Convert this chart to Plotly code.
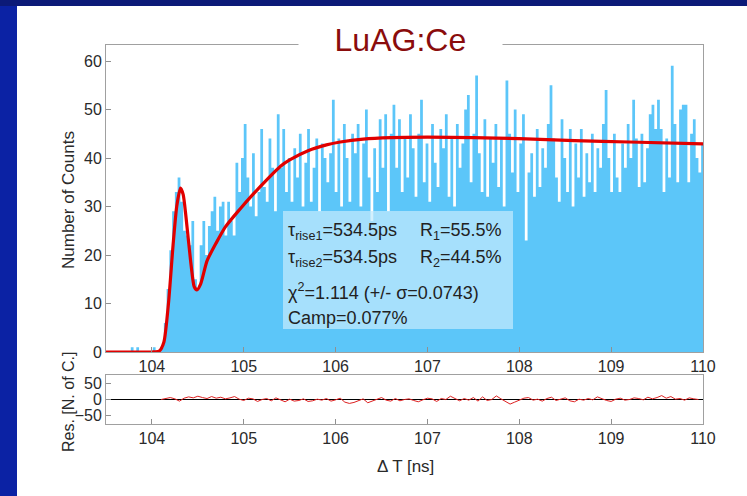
import plotly.graph_objects as go

# ---------------- data ----------------
bin_start = 103.5
bin_width = 0.03
counts = [
    0, 0, 0, 0, 0, 0, 0, 0, 0, 1, 0, 1, 0, 0, 0, 0, 0, 1, 0, 0,
    1, 6, 13, 21, 29, 33, 36, 31, 25, 24,
    22, 27, 15, 13, 22, 27, 20, 26, 29, 32,
    25, 30, 31, 24, 31, 27, 24, 39, 33, 40,
    47, 36, 30, 41, 28, 33, 46, 34, 31, 44,
    38, 29, 49, 38, 46, 33, 40, 31, 42, 36,
    45, 30, 39, 46, 31, 38, 44, 29, 43, 40,
    35, 41, 52, 33, 44, 30, 47, 40, 31, 45,
    41, 47, 30, 43, 50, 36, 27, 42, 33, 48,
    38, 49, 29, 45, 51, 38, 48, 33, 44, 36,
    49, 42, 32, 45, 52, 35, 43, 31, 47, 39,
    34, 46, 42, 49, 32, 44, 30, 47, 38, 43,
    50, 53, 35, 45, 57, 41, 33, 48, 32, 44,
    39, 47, 34, 44, 30, 56, 45, 37, 50, 33,
    43, 49, 23, 37, 41, 32, 46, 34, 42, 38,
    47, 55, 44, 36, 31, 48, 40, 33, 46, 30,
    43, 36, 46, 32, 41, 35, 45, 33, 42, 38,
    47, 54, 40, 33, 45, 36, 33, 43, 38, 47,
    40, 52, 44, 34, 45, 35, 42, 49, 51, 46,
    52, 46, 33, 44, 36, 59, 47, 35, 50, 51,
    51, 35, 45, 48, 40, 37, 43,
]

fit_t = [103.5, 104.0, 104.08, 104.13, 104.18, 104.23, 104.27, 104.31, 104.34,
         104.37, 104.42, 104.46, 104.49, 104.53, 104.6, 104.7, 104.8, 104.96,
         105.1, 105.25, 105.4, 105.5, 105.7, 105.9, 106.05, 106.3, 106.6, 107.0,
         107.5, 108.0, 108.6, 109.2, 110.0]
fit_y = [0, 0, 0.2, 2, 10, 22, 30, 33.8, 32.5,
         28, 19, 13.5, 12.8, 14, 18.8, 22.5, 25.8, 29.5,
         32.5, 35.5, 38.3, 39.6, 41.5, 42.7, 43.3, 43.9, 44.2, 44.3,
         44.2, 44.0, 43.6, 43.3, 42.9]

res_start = 104.1
res_step = 0.05
residuals = [0, 3, 6, 2, -5, 4, 8, 5, 10, 6, 3, 9, 4, 7, 2, 5, 9, 1, -3, 4,
             2, -6, 0, 3, -4, 5, -2, -7, 1, -5, -3, 2, -6, -4, 1, -2, 3, -5, -1, 4,
             -8, -12, -9, -3, 2, -10, -4, 1, 6, -2, -5, 3, -4, 0, 2, -3, -7, -1, 4, 2,
             -6, 3, 0, 10, 2, -4, 3, -2, 6, -5, 8, -3, 0, 11, 2, -6, -14, -8, -3, 4,
             6, -2, 1, -5, 3, 7, -3, 0, 5, -4, -7, 1, -2, 3, -1, 8, 2, -3, -6, 1,
             4, -2, 0, 5, 3, -1, 7, 2, 6, 12, 4, 9, 1, 3, -2, 5, 2, 0]

x_ticks = [104, 105, 106, 107, 108, 109, 110]
y_ticks = [0, 10, 20, 30, 40, 50, 60]
res_ticks = [-50, 0, 50]

info_lines = [
    "τ<sub>rise1</sub>=534.5ps",
    "τ<sub>rise2</sub>=534.5ps",
    "χ<sup>2</sup>=1.114 (+/- σ=0.0743)",
    "Camp=0.077%",
]
info_right = ["R<sub>1</sub>=55.5%", "R<sub>2</sub>=44.5%"]

# ---------------- geometry helpers (pixel -> paper) ----------------
W, H = 747, 496
def px(x):
    return x / W
def py(y):
    return 1 - y / H

edges = [bin_start + i * bin_width for i in range(len(counts) + 1)]
step_y = counts + [counts[-1]]
res_x = [res_start + i * res_step for i in range(len(residuals))]

FONT = "Liberation Sans, Arial, Helvetica, sans-serif"
HIST = "#5cc6f9"
TXT = "#2a2a2a"

fig = go.Figure()
fig.add_trace(go.Scatter(x=edges, y=step_y, mode="lines", line=dict(shape="hv", width=0, color=HIST),
                         fill="tozeroy", fillcolor=HIST, xaxis="x", yaxis="y", hoverinfo="skip"))
fig.add_trace(go.Scatter(x=fit_t, y=fit_y, mode="lines",
                         line=dict(color="#e00000", width=3.2, shape="spline", smoothing=0.6),
                         xaxis="x", yaxis="y"))
fig.add_trace(go.Scatter(x=[bin_start, 110], y=[0, 0], mode="lines",
                         line=dict(color="black", width=1), xaxis="x2", yaxis="y2"))
fig.add_trace(go.Scatter(x=res_x, y=residuals, mode="lines",
                         line=dict(color="#dd2020", width=1), xaxis="x2", yaxis="y2"))

axis_common = dict(showline=True, mirror=True, linecolor="#a0a0a0", linewidth=1,
                   ticks="inside", ticklen=5, tickcolor="#909090", showgrid=False, zeroline=False,
                   automargin=False, tickfont=dict(family=FONT, size=16, color=TXT))

fig.update_layout(
    width=W, height=H,
    margin=dict(l=0, r=0, t=0, b=0, pad=0, autoexpand=False),
    paper_bgcolor="white", plot_bgcolor="rgba(0,0,0,0)", showlegend=False,
    xaxis=dict(domain=[px(106), px(703)], range=[103.5, 110], tickvals=x_ticks,
               anchor="y", **axis_common),
    yaxis=dict(domain=[py(352), py(45)], range=[0, 63.3], tickvals=y_ticks,
               anchor="x", **axis_common),
    xaxis2=dict(domain=[px(106), px(703)], range=[103.5, 110], tickvals=x_ticks,
                anchor="y2", **axis_common),
    yaxis2=dict(domain=[py(424), py(375)], range=[-75, 75], tickvals=res_ticks,
                anchor="x2", **axis_common),
)

shapes = [
    dict(type="rect", xref="paper", yref="paper", x0=-0.2, x1=px(17), y0=-0.2, y1=1.2,
         fillcolor="#0b22a4", line=dict(width=0), layer="below"),
    dict(type="rect", xref="paper", yref="paper", x0=-0.2, x1=1.2, y0=py(6), y1=1.2,
         fillcolor="#0c1a78", line=dict(width=0), layer="below"),
    dict(type="rect", xref="paper", yref="paper", x0=px(283), x1=px(513), y0=py(329), y1=py(211),
         fillcolor="rgba(196,234,252,0.72)", line=dict(width=0), layer="above"),
]
fig.update_layout(shapes=shapes)

ann = []
ann.append(dict(text="\u00a0\u00a0\u00a0\u00a0LuAG:Ce\u00a0\u00a0\u00a0\u00a0", x=px(400), y=py(40),
                xref="paper", yref="paper", showarrow=False, xanchor="center", yanchor="middle",
                font=dict(family=FONT, size=32, color="#8a0c0c"), bgcolor="white", borderpad=0))
ann.append(dict(text="Number of Counts", x=px(68), y=py(200), xref="paper", yref="paper",
                showarrow=False, textangle=-90, xanchor="center", yanchor="middle",
                font=dict(family=FONT, size=17, color=TXT)))
ann.append(dict(text="Res. [N. of C.]", x=px(68), y=py(402), xref="paper", yref="paper",
                showarrow=False, textangle=-90, xanchor="center", yanchor="middle",
                font=dict(family=FONT, size=16, color=TXT)))
ann.append(dict(text="Δ T [ns]", x=px(405), y=py(466), xref="paper", yref="paper",
                showarrow=False, xanchor="center", yanchor="middle",
                font=dict(family=FONT, size=17, color=TXT)))
line_y = [231, 258, 291, 318]
for t, yy in zip(info_lines, line_y):
    ann.append(dict(text=t, x=px(286), y=py(yy), xref="paper", yref="paper", showarrow=False,
                    xanchor="left", yanchor="middle", font=dict(family=FONT, size=18, color="#222")))
for t, yy in zip(info_right, line_y[:2]):
    ann.append(dict(text=t, x=px(418), y=py(yy), xref="paper", yref="paper", showarrow=False,
                    xanchor="left", yanchor="middle", font=dict(family=FONT, size=18, color="#222")))
fig.update_layout(annotations=ann)

fig.write_html("out.html")
